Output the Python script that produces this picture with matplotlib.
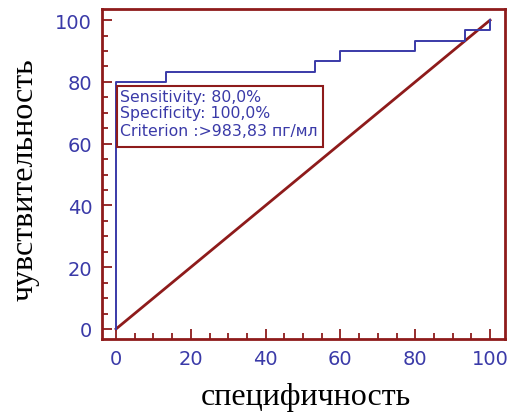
import matplotlib
matplotlib.use("Agg")
import matplotlib.pyplot as plt
from matplotlib.patches import Rectangle
from matplotlib.ticker import MultipleLocator

# ROC curve (step points): 100 - specificity on x, sensitivity on y
roc_x = [0, 0, 13.3, 13.3, 53.3, 53.3, 60.0, 60.0, 80.0, 80.0, 93.3, 93.3, 100.0, 100.0]
roc_y = [0, 80.0, 80.0, 83.3, 83.3, 86.7, 86.7, 90.0, 90.0, 93.3, 93.3, 96.7, 96.7, 100.0]
diag_x = [0, 100]
diag_y = [0, 100]
ticks = [0, 20, 40, 60, 80, 100]
info_lines = ["Sensitivity: 80,0%", "Specificity: 100,0%", "Criterion :>983,83 пг/мл"]

RED = "#8e1b1b"
BLUE = "#3a3aa8"

fig = plt.figure(figsize=(5.15, 4.14), dpi=100)
ax = fig.add_axes([0.198, 0.1787, 0.7826, 0.7971])

ax.plot(diag_x, diag_y, color=RED, lw=2.0, zorder=2)
ax.plot(roc_x, roc_y, color=BLUE, lw=1.4, zorder=3)

ax.set_xlim(-3.75, 104.0)
ax.set_ylim(-3.25, 103.6)
ax.set_xticks(ticks)
ax.set_yticks(ticks)
ax.xaxis.set_minor_locator(MultipleLocator(5))
ax.yaxis.set_minor_locator(MultipleLocator(5))
ax.tick_params(which="major", direction="in", length=7, width=1.3, color=RED,
               labelcolor=BLUE, labelsize=14, pad=7)
ax.tick_params(which="minor", direction="in", length=4, width=1.3, color=RED)
for lab in ax.get_xticklabels() + ax.get_yticklabels():
    lab.set_family("DejaVu Sans")
for sp in ax.spines.values():
    sp.set_color(RED)
    sp.set_linewidth(2)

# Info box with the optimal cut-off
box = Rectangle((0.4, 58.9), 55.0, 19.9, facecolor="white", edgecolor=RED,
                lw=1.5, zorder=4)
ax.add_patch(box)
for yv, line in zip([75.3, 70.0, 64.3], info_lines):
    ax.text(1.2, yv, line, color=BLUE, fontsize=11.3,
            family="DejaVu Sans", va="center", ha="left", zorder=5)

fig.text(0.593, 0.041, "специфичность", family="Liberation Serif", fontsize=23,
         ha="center", va="center", color="black")
fig.text(0.049, 0.565, "чувствительность", family="Liberation Serif", fontsize=23,
         ha="center", va="center", rotation=90, color="black")

fig.savefig("out.png", dpi=100)
